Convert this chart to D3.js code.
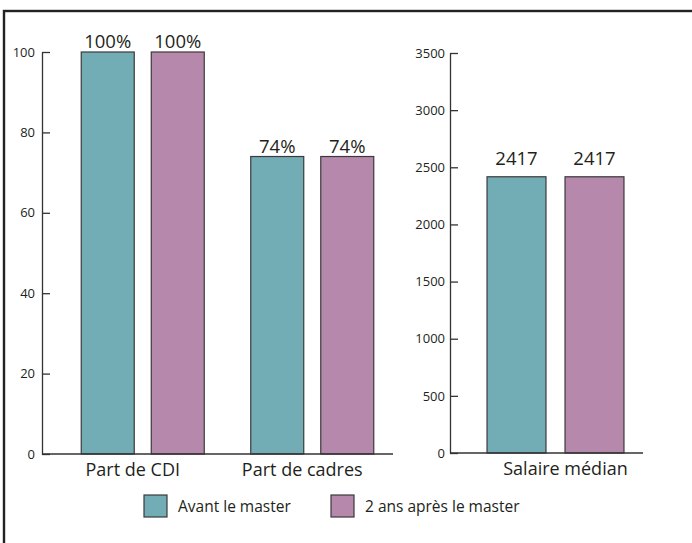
<!DOCTYPE html>
<html>
<head>
<meta charset="utf-8">
<script src="https://cdn.jsdelivr.net/npm/d3@7"></script>
<style>
  body { margin: 0; background: #fff; }
  svg { display: block; font-family: 'Open Sans', 'Noto Sans', sans-serif; }
</style>
</head>
<body>
<svg id="chart"></svg>
<script>
// data
const series = ['Avant le master', '2 ans après le master'];
const pctCategories = ['Part de CDI', 'Part de cadres'];
const pctValues = [[100, 100], [74, 74]];
const pctTicks = [0, 20, 40, 60, 80, 100];
const salaryCategories = ['Salaire médian'];
const salaryValues = [[2417, 2417]];
const salaryTicks = [0, 500, 1000, 1500, 2000, 2500, 3000, 3500];

const colors = ['#72adb6', '#b688ac'];
const textColor = '#231f20';
const lineColor = '#333';

const svgWidth = 692;
const svgHeight = 543;

const svg = d3.select('#chart')
  .attr('width', svgWidth)
  .attr('height', svgHeight);

// frame (only left and top edges are inside the picture)
svg.append('rect')
  .attr('x', 4)
  .attr('y', 11)
  .attr('width', 800)
  .attr('height', 700)
  .attr('fill', 'none')
  .attr('stroke', '#222')
  .attr('stroke-width', 2.4);

function drawPanel(opts) {
  const g = svg.append('g');

  const yScale = d3.scaleLinear()
    .domain([0, opts.max])
    .range([opts.bottom, opts.top]);

  const x0 = d3.scaleBand()
    .domain(opts.categories)
    .range(opts.bandRange);

  const x1 = d3.scaleBand()
    .domain(series)
    .range([0, x0.bandwidth()])
    .paddingInner(opts.innerPad)
    .paddingOuter(opts.outerPad);

  // y axis, ticks pointing inward
  const yAxis = d3.axisLeft(yScale)
    .tickValues(opts.ticks)
    .tickFormat(d3.format('d'))
    .tickSize(-8)
    .tickSizeOuter(0)
    .tickPadding(opts.tickPadding);

  const ax = g.append('g')
    .attr('transform', 'translate(' + opts.axisX + ',0)')
    .call(yAxis);
  ax.select('.domain').attr('stroke', lineColor).attr('stroke-width', 1.3);
  ax.selectAll('.tick line').attr('stroke', lineColor).attr('stroke-width', 1.3);
  ax.selectAll('.tick text')
    .attr('fill', textColor)
    .style('font-size', '13px')
    .style('font-family', "'Open Sans', sans-serif");

  // bars
  const groups = g.selectAll('.grp')
    .data(opts.categories)
    .enter()
    .append('g')
    .attr('transform', d => 'translate(' + x0(d) + ',0)');

  groups.selectAll('rect')
    .data((d, i) => opts.values[i].map((v, j) => ({ s: series[j], v: v, j: j })))
    .enter()
    .append('rect')
    .attr('x', d => x1(d.s))
    .attr('y', d => yScale(d.v))
    .attr('width', x1.bandwidth())
    .attr('height', d => yScale(0) - yScale(d.v))
    .attr('fill', d => colors[d.j])
    .attr('stroke', '#3a3a3a')
    .attr('stroke-width', 1.2);

  groups.selectAll('.val')
    .data((d, i) => opts.values[i].map((v, j) => ({ s: series[j], v: v })))
    .enter()
    .append('text')
    .attr('x', d => x1(d.s) + x1.bandwidth() / 2)
    .attr('y', d => yScale(d.v) - opts.labelGap)
    .attr('text-anchor', 'middle')
    .attr('fill', textColor)
    .style('font-size', '18.5px')
    .text(d => opts.format(d.v));

  // baseline
  g.append('line')
    .attr('x1', opts.axisX)
    .attr('x2', opts.baseEnd)
    .attr('y1', yScale(0))
    .attr('y2', yScale(0))
    .attr('stroke', lineColor)
    .attr('stroke-width', 1.3);

  // category labels
  groups.append('text')
    .attr('x', x0.bandwidth() / 2 + opts.catShift)
    .attr('y', yScale(0) + 22)
    .attr('text-anchor', 'middle')
    .attr('fill', textColor)
    .style('font-size', '18px')
    .text(d => d);
}

drawPanel({
  categories: pctCategories,
  values: pctValues,
  ticks: pctTicks,
  max: 100,
  top: 52,
  bottom: 454,
  axisX: 42,
  baseEnd: 393,
  bandRange: [58, 397],
  innerPad: 0.243,
  outerPad: 0.332,
  tickPadding: 7,
  labelGap: 4,
  catShift: -10,
  format: v => v + '%'
});

drawPanel({
  categories: salaryCategories,
  values: salaryValues,
  ticks: salaryTicks,
  max: 3500,
  top: 53,
  bottom: 453,
  axisX: 450,
  baseEnd: 643,
  bandRange: [468, 643],
  innerPad: 0.244,
  outerPad: 0.244,
  tickPadding: 5,
  labelGap: 12,
  catShift: 10,
  format: v => String(v)
});

// legend
const legend = svg.append('g')
  .selectAll('g')
  .data(series)
  .enter()
  .append('g')
  .attr('transform', (d, i) => 'translate(' + [144, 331][i] + ',495)');

legend.append('rect')
  .attr('width', 23)
  .attr('height', 22)
  .attr('fill', (d, i) => colors[i])
  .attr('stroke', '#3a3a3a')
  .attr('stroke-width', 1.2);

legend.append('text')
  .attr('x', 34)
  .attr('y', 17)
  .attr('fill', textColor)
  .style('font-size', '15.5px')
  .text(d => d);
</script>
</body>
</html>
